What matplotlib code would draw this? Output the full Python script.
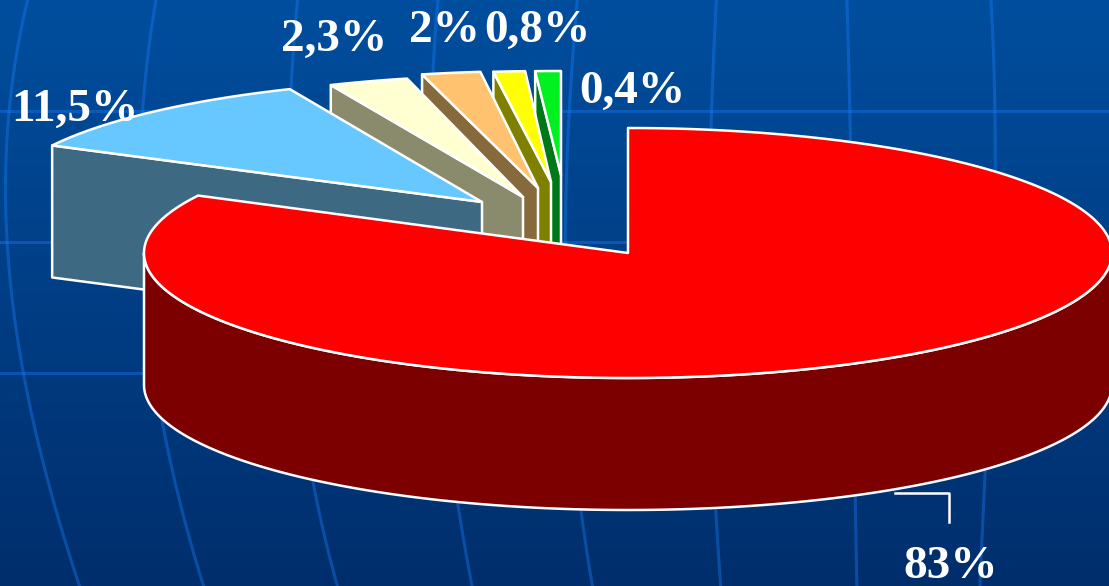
"""Exploded 3D pie on a blue slide background."""
import numpy as np
import matplotlib
matplotlib.use("Agg")
import matplotlib.pyplot as plt
from matplotlib.patches import Polygon

LABELS = ["83%", "11,5%", "2,3%", "2%", "0,8%", "0,4%"]
SHARES = [82.6, 10.9, 2.65, 1.95, 1.05, 0.85]
TOP_COLORS = ["#ff0000", "#66c8ff", "#ffffd2", "#ffc26e", "#ffff00", "#00f020"]
SIDE_COLORS = ["#7c0000", "#3d6a82", "#8a8a6c", "#866a3c", "#808000", "#007818"]

CENTER = (628, 253)
RX, RY = 484, 125
DEPTH = 132
# where each slice's tip was pulled to, relative to the pie centre
OFFSETS = [(0, 0), (-146, -51), (-105, -56), (-90, -65), (-77, -71), (-67, -78)]
# the far slices are flattened a bit more the closer they sit to the back
SLICE_RY = [125, 123, 122, 117, 111, 104]
LABEL_POS = [(951, 567), (75, 110), (334, 40), (444, 31), (537, 31), (632, 92)]

W, H = 1109, 586
HLINES = [111, 242, 373]
MERIDIANS = [
    [(0, 28), (70, 13), (200, 7), (340, 17), (380, 24), (503, 55), (586, 79)],
    [(0, 155), (70, 148), (250, 140), (425, 163), (503, 181), (586, 203)],
    [(0, 297), (85, 292), (300, 290), (483, 314), (586, 337)],
    [(0, 438), (70, 433), (300, 435), (506, 458), (586, 472)],
    [(0, 577), (110, 570), (300, 565), (512, 582), (586, 592)],
    [(0, 716), (128, 712), (300, 708), (510, 717), (586, 720)],
    [(0, 847), (130, 850), (300, 853), (498, 855), (586, 857)],
    [(0, 991), (170, 995), (300, 993), (470, 985), (586, 980)],
]


def ellipse_point(cx, cy, deg, ry):
    rad = np.radians(deg)
    return cx + RX * np.cos(rad), cy - ry * np.sin(rad)


def arc(cx, cy, start, end, ry, n=200):
    x, y = ellipse_point(cx, cy, np.linspace(start, end, n), ry)
    return np.column_stack([x, y])


def add_poly(ax, pts, color, z):
    ax.add_patch(Polygon(pts, closed=True, facecolor=color, edgecolor="white",
                         linewidth=1.8, joinstyle="round", zorder=z))


def draw_background(ax):
    gradient = np.linspace(0, 1, 256).reshape(-1, 1)
    top = np.array([0, 78, 158]) / 255
    bottom = np.array([0, 46, 108]) / 255
    img = top + (bottom - top) * gradient[..., None]
    ax.imshow(img, extent=(0, W, H, 0), aspect="auto", zorder=0)
    line_style = {"color": "#1a80ff", "alpha": 0.38, "lw": 2.2, "zorder": 1}
    for y in HLINES:
        ax.plot([0, W], [y, y], **line_style)
    ys = np.linspace(0, H, 1173)
    for line in MERIDIANS:
        knots_y, knots_x = zip(*line)
        xs = np.polyval(np.polyfit(knots_y, knots_x, 3), ys)
        xs[np.abs(ys - 505) < 1.2] = np.nan  # the slide art has a small break here
        ax.plot(xs, ys, **line_style)


def draw_pie(ax):
    edges = 90 - np.cumsum([0] + SHARES) * 3.6
    # back slices first, each one hides part of the wall behind it
    for i in range(len(SHARES) - 1, 0, -1):
        cx = CENTER[0] + OFFSETS[i][0]
        cy = CENTER[1] + OFFSETS[i][1]
        ry = SLICE_RY[i]
        start, end = edges[i], edges[i + 1]
        z = 10 + (len(SHARES) - i) * 2
        outer = ellipse_point(cx, cy, start, ry)
        wall = [(cx, cy), outer, (outer[0], outer[1] + DEPTH), (cx, cy + DEPTH)]
        add_poly(ax, wall, SIDE_COLORS[i], z)
        add_poly(ax, np.vstack([[(cx, cy)], arc(cx, cy, start, end, ry)]), TOP_COLORS[i], z + 1)

    cx, cy = CENTER
    rim = arc(cx, cy, 180, 360, RY)
    add_poly(ax, np.vstack([rim, rim[::-1] + [0, DEPTH]]), SIDE_COLORS[0], 30)
    add_poly(ax, np.vstack([[(cx, cy)], arc(cx, cy, edges[0], edges[1], RY, 400)]), TOP_COLORS[0], 31)


plt.rcParams["font.family"] = ["Liberation Serif", "DejaVu Serif"]
fig = plt.figure(figsize=(W / 100, H / 100), dpi=100)
ax = fig.add_axes([0, 0, 1, 1])
draw_background(ax)
draw_pie(ax)
ax.plot([895, 949, 949], [493, 493, 522], color="white", lw=1.8, zorder=32)

for label, (x, y) in zip(LABELS, LABEL_POS):
    ax.text(x, y, label, color="white", fontsize=34, fontweight="bold",
            ha="center", va="center", zorder=40)

ax.set_xlim(0, W)
ax.set_ylim(H, 0)
ax.axis("off")
fig.savefig("out.png", dpi=100)
